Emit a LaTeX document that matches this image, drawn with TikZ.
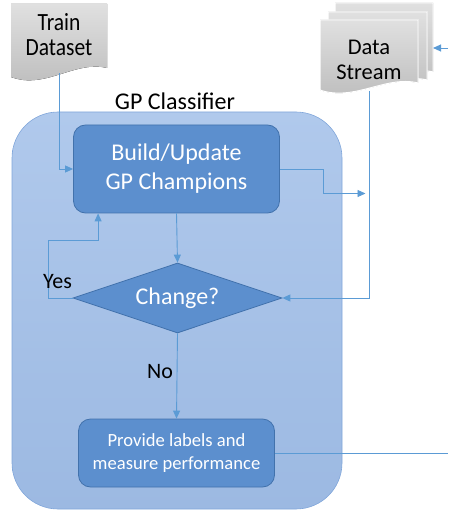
\documentclass[tikz,border=0pt]{standalone}
\usepackage{fontspec}
\setmainfont{Carlito}
\usetikzlibrary{shapes.geometric,arrows.meta,calc}

\definecolor{linkblue}{RGB}{91,155,213}
\definecolor{boxblue}{RGB}{92,143,206}
\definecolor{boxedge}{RGB}{66,114,172}
\definecolor{panetop}{RGB}{176,201,236}
\definecolor{panebot}{RGB}{156,185,226}
\definecolor{panedge}{RGB}{128,166,218}
\definecolor{doctop}{RGB}{224,224,224}
\definecolor{docbot}{RGB}{188,188,188}

\begin{document}
\begin{tikzpicture}[x=1pt,y=-1pt,
  link/.style={draw=linkblue,line width=0.9pt},
  tip/.style={-{Triangle[length=8pt,width=7pt]}},
  stepbox/.style={draw=boxedge,line width=0.8pt,fill=boxblue,rounded corners=12pt,
    text=white,align=center,inner sep=0pt},
  decision/.style={diamond,draw=boxedge,line width=0.8pt,fill=boxblue,text=white,
    inner sep=0pt,aspect=3},
  pane/.style={draw=panedge,line width=0.6pt,top color=panetop,bottom color=panebot,
    rounded corners=46pt,inner sep=0pt},
  docpage/.style={top color=doctop,bottom color=docbot},
  stackpage/.style={docpage,draw=white,line width=1pt},
  doclabel/.style={align=center,inner sep=0pt},
  tag/.style={inner sep=0pt,anchor=base west,font=\fontsize{22}{26}\selectfont}
]
\useasboundingbox (0,0) rectangle (448,510);

% classifier panel
\node[pane,minimum width=330pt,minimum height=397pt] (clf) at (177,310.5) {};
\node[inner sep=0pt,anchor=base,font=\fontsize{24}{28}\selectfont] (clflabel) at (175,110) {GP Classifier};

% training data document
\fill[docpage] (11,4) -- (107,4) -- (107,68)
  .. controls (75,60) and (45,90) .. (11,77) -- cycle;
\node[doclabel,minimum width=96pt,minimum height=70pt] (train) at (59,38)
  {\scalebox{1}[1.15]{\fontsize{21.5}{22}\selectfont\begin{tabular}{@{}c@{}}Train\\[-1pt]Dataset\end{tabular}}};

% stacked stream documents
\filldraw[stackpage] (335,3) -- (433,3) -- (433,72)
  .. controls (400,64) and (370,92) .. (335,80) -- cycle;
\filldraw[stackpage] (328,12) -- (427,12) -- (427,80)
  .. controls (394,72) and (362,100) .. (328,88) -- cycle;
\filldraw[stackpage] (320,20) -- (418,20) -- (418,83)
  .. controls (386,75) and (354,102) .. (320,90) -- cycle;
\node[doclabel,minimum width=98pt,minimum height=62pt,
  font=\fontsize{22.5}{24.5}\selectfont] (stream) at (369,60) {Data\\Stream};

% flowchart steps
\node[stepbox,minimum width=206pt,minimum height=88pt,
  font=\fontsize{24}{29}\selectfont] (build) at (176.5,169) {Build/Update\\GP Champions};
\node[decision,minimum width=209pt,minimum height=70pt,
  font=\fontsize{24}{28}\selectfont] (change) at (177.5,298) {Change?};
\node[stepbox,minimum width=196pt,minimum height=68pt,
  font=\fontsize{18.6}{23}\selectfont] (prov) at (176.5,453) {Provide labels and\\measure performance};

% helper points for connector ends and bends
\coordinate (yesbend) at (48,240);
\coordinate (join) at (368,193.5);
\coordinate (backedge) at (433,48);
\coordinate (feed) at (448,48);
\coordinate (outlet) at (448,453);

% connectors
\draw[link,tip] (train.south) |- (build.west);
\draw[link,tip] (build.south) -- (change.north);
\draw[link,tip] (change.west) -| (yesbend) -| ($(build.south west)+(25,0)$);
\draw[link,tip] (change.south) -- (prov.north);
\draw[link,tip,shorten >=2.5pt] (build.east) -- ++(44,0) |- (join);
\draw[link] (stream.south) -- (stream.south |- join);
\draw[link,tip] (stream.south |- join) |- (change.east);
\draw[link,tip] (feed) -- (backedge);
\draw[link] (prov.east) -- (outlet);

% branch labels
\node[tag] (yes) at (43,288) {Yes};
\node[tag] (no) at (147,378) {No};
\end{tikzpicture}
\end{document}
